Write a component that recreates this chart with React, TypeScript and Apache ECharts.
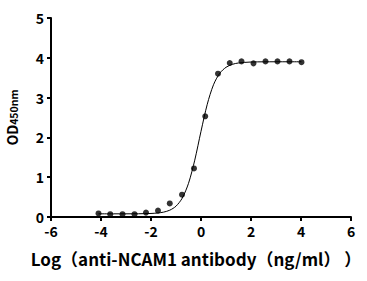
import React, { useEffect, useRef } from "react";
import * as echarts from "echarts";

const logConc = [-4.1, -3.63, -3.14, -2.66, -2.2, -1.72, -1.25, -0.76, -0.28, 0.17, 0.68, 1.15, 1.62, 2.1, 2.58, 3.06, 3.54, 4.02];
const odValues = [0.09, 0.07, 0.07, 0.07, 0.11, 0.16, 0.34, 0.56, 1.22, 2.53, 3.6, 3.87, 3.91, 3.86, 3.91, 3.91, 3.91, 3.89];

const curveX = [-4.1, -3.5, -3, -2.5, -2, -1.75, -1.5, -1.25, -1, -0.75, -0.5, -0.25, 0, 0.25, 0.5, 0.75, 1, 1.25, 1.5, 2, 2.5, 3, 3.5, 4.02];
const curveY = [0.08, 0.08, 0.08, 0.082, 0.089, 0.1, 0.122, 0.171, 0.272, 0.475, 0.846, 1.428, 2.153, 2.832, 3.323, 3.611, 3.761, 3.835, 3.87, 3.894, 3.899, 3.9, 3.9, 3.9];

const xTicks = { min: -6, max: 6, interval: 2 };
const yTicks = { min: 0, max: 5, interval: 1 };

const FONT = "'Noto Sans CJK SC', 'Noto Sans', sans-serif";

export default function App() {
  const ref = useRef<HTMLDivElement>(null);
  useEffect(() => {
    if (!ref.current) return;
    const chart = echarts.init(ref.current, undefined, { renderer: "svg" });
    const axisCommon = {
      axisLine: { show: true, onZero: false, lineStyle: { color: "#000", width: 2 } },
      axisTick: { show: true, length: 4, lineStyle: { color: "#000", width: 2 } },
      splitLine: { show: false },
      axisLabel: { color: "#000", fontSize: 14, fontWeight: "bold", fontFamily: FONT },
    };
    chart.setOption({
      animation: false,
      backgroundColor: "#fff",
      grid: { left: 51, right: 16, top: 18, bottom: 64, containLabel: false, outerBoundsMode: "none" },
      xAxis: {
        type: "value",
        ...xTicks,
        ...axisCommon,
        axisLabel: { ...axisCommon.axisLabel, margin: 7 },
        name: "Log（anti-NCAM1 antibody（ng/ml） ）",
        nameLocation: "middle",
        nameGap: 33,
        nameTextStyle: { color: "#000", fontSize: 17, fontWeight: "bold", fontFamily: FONT, padding: [0, 10, 0, 0] },
      },
      yAxis: {
        type: "value",
        ...yTicks,
        ...axisCommon,
        axisLabel: { ...axisCommon.axisLabel, margin: 7 },
        name: "{a|OD}{b|450nm}",
        nameLocation: "middle",
        nameRotate: 90,
        nameGap: 32,
        nameTextStyle: {
          rich: {
            a: { color: "#000", fontSize: 14, fontWeight: "bold", fontFamily: FONT, verticalAlign: "bottom" },
            b: { color: "#000", fontSize: 10.5, fontWeight: "bold", fontFamily: FONT, verticalAlign: "bottom" },
          },
        },
      },
      series: [
        {
          type: "line",
          data: curveX.map((x, i) => [x, curveY[i]]),
          smooth: 0.3,
          showSymbol: false,
          lineStyle: { color: "#000", width: 1 },
          z: 1,
        },
        {
          type: "scatter",
          data: logConc.map((x, i) => [x, odValues[i]]),
          symbol: "circle",
          symbolSize: 6,
          itemStyle: { color: "#000" },
          z: 2,
        },
      ],
    });
    return () => chart.dispose();
  }, []);
  return <div ref={ref} style={{ width: 367, height: 281, position: "absolute", left: 0, top: 0 }} />;
}
